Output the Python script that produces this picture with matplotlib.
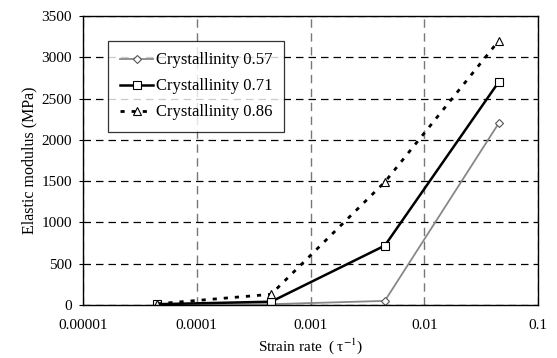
import matplotlib
matplotlib.use('Agg')
from matplotlib import pyplot as plt

# Strain rate (1/s) and elastic modulus (MPa)
strain_rate = [4.5e-5, 4.5e-4, 4.5e-3, 4.5e-2]
mod_057 = [5, 10, 50, 2200]
mod_071 = [10, 40, 720, 2700]
mod_086 = [15, 130, 1490, 3200]

x_ticks = [0.00001, 0.0001, 0.001, 0.01, 0.1]
x_tick_labels = ['0.00001', '0.0001', '0.001', '0.01', '0.1']
y_ticks = [0, 500, 1000, 1500, 2000, 2500, 3000, 3500]

plt.rcParams['font.family'] = ['Liberation Serif', 'DejaVu Serif']
plt.rcParams['mathtext.fontset'] = 'stix'

fig = plt.figure(figsize=(5.57, 3.58), dpi=100)
ax = fig.add_axes([0.149, 0.148, 0.817, 0.807])

ax.plot(strain_rate, mod_057, color='#888888', lw=1.3, marker='D', ms=4,
        mfc='white', mec='#555555', mew=0.8, label='Crystallinity 0.57')
ax.plot(strain_rate, mod_071, color='black', lw=1.8, marker='s', ms=5.5,
        mfc='white', mec='black', mew=0.8, label='Crystallinity 0.71')
ax.plot(strain_rate, mod_086, color='black', lw=2.0, ls=(0, (1.5, 2.5)),
        marker='^', ms=5.5, mfc='white', mec='black', mew=0.8,
        label='Crystallinity 0.86')

ax.set_xscale('log')
ax.set_xlim(0.00001, 0.1)
ax.set_ylim(0, 3500)
ax.set_xticks(x_ticks)
ax.set_xticklabels(x_tick_labels)
ax.set_yticks(y_ticks)
ax.minorticks_off()
ax.tick_params(axis='both', labelsize=11, length=3, width=0.8)
ax.tick_params(axis='x', length=0, pad=10)
ax.tick_params(axis='y', pad=5)

ax.xaxis.grid(True, color='#777777', ls=(0, (6, 4)), lw=1)
ax.yaxis.grid(True, color='black', ls=(0, (6, 4)), lw=0.9)
ax.set_axisbelow(True)
for s in ax.spines.values():
    s.set_linewidth(1.0)

ax.set_xlabel('Strain rate\u2002(\u2009\u03c4$^{-1}$)', fontsize=11, labelpad=3)
ax.set_ylabel('Elastic modulus (MPa)', fontsize=11.5, labelpad=3)

leg = ax.legend(loc='upper left', bbox_to_anchor=(0.056, 0.915), fontsize=12,
                frameon=True, fancybox=False, edgecolor='black',
                handlelength=2.0, handletextpad=0.15, borderpad=0.7,
                labelspacing=0.6, borderaxespad=0)
leg.get_frame().set_linewidth(0.9)

fig.savefig('out.png', dpi=100)
